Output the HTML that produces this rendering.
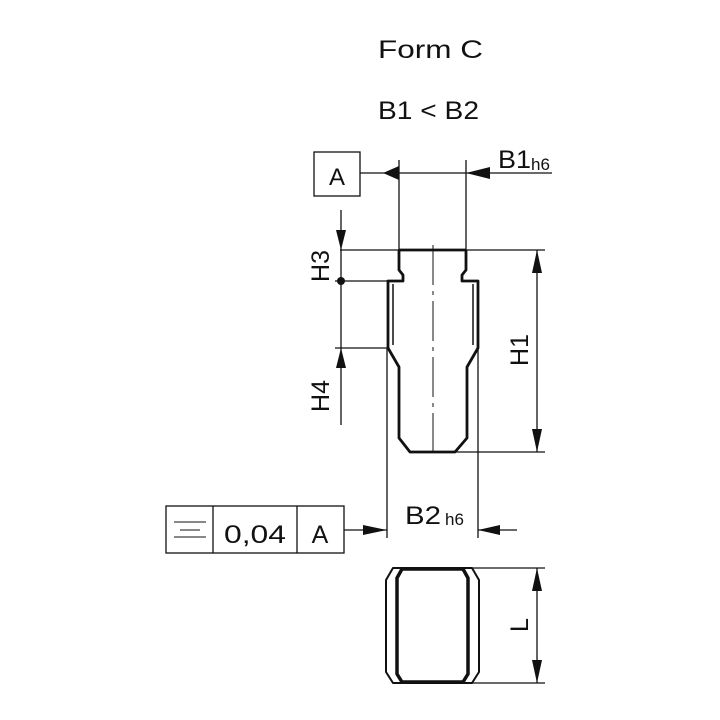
<!DOCTYPE html>
<html><head><style>body{margin:0;background:#fff}svg{display:block}text{font-family:"Liberation Sans",sans-serif;fill:#111}</style></head>
<body>
<svg width="720" height="720" viewBox="0 0 720 720" xmlns="http://www.w3.org/2000/svg">
<rect width="720" height="720" fill="#fff"/>
<text x="378" y="58" font-size="25" textLength="105" lengthAdjust="spacingAndGlyphs">Form C</text>
<text x="378" y="119" font-size="25" textLength="101" lengthAdjust="spacingAndGlyphs">B1 &lt; B2</text>
<g stroke="#111" stroke-width="1.3" fill="none">
<rect x="314" y="152" width="46" height="44"/>
<line x1="360" y1="173" x2="552" y2="173"/>
<line x1="399" y1="160" x2="399" y2="250"/>
<line x1="466" y1="160" x2="466" y2="250"/>
<line x1="340" y1="250" x2="545" y2="250"/>
<line x1="341" y1="210" x2="341" y2="425"/>
<line x1="335" y1="281" x2="388" y2="281"/>
<line x1="335" y1="348" x2="388" y2="348"/>
<line x1="537" y1="250" x2="537" y2="452"/>
<line x1="455" y1="452" x2="545" y2="452"/>
<line x1="387" y1="348" x2="387" y2="538"/>
<line x1="478" y1="348" x2="478" y2="538"/>
<line x1="344" y1="530" x2="387" y2="530"/>
<line x1="478" y1="530" x2="517" y2="530"/>
<line x1="433" y1="245" x2="433" y2="458" stroke-dasharray="40,6,4,6" stroke-width="1"/>
<rect x="166" y="506" width="178" height="47"/>
<line x1="213" y1="506" x2="213" y2="553"/>
<line x1="297" y1="506" x2="297" y2="553"/>
<line x1="174" y1="522" x2="206" y2="522" stroke-width="1"/>
<line x1="180" y1="530" x2="200" y2="530" stroke-width="1"/>
<line x1="174" y1="537" x2="206" y2="537" stroke-width="1"/>
<line x1="470" y1="568" x2="545" y2="568"/>
<line x1="470" y1="683" x2="545" y2="683"/>
<line x1="537" y1="568" x2="537" y2="683"/>
</g>
<g fill="#111">
<polygon points="383,173 399,166 399,180"/>
<polygon points="466,173 490,167 490,179"/>
<polygon points="341,250 336,230 346,230"/>
<circle cx="341" cy="281" r="4"/>
<polygon points="341,348 336,368 346,368"/>
<polygon points="537,250 532,273 542,273"/>
<polygon points="537,452 532,429 542,429"/>
<polygon points="387,530 363,525 363,535"/>
<polygon points="478,530 500,525 500,535"/>
<polygon points="537,568 532,591 542,591"/>
<polygon points="537,683 532,660 542,660"/>
</g>
<g stroke="#111" stroke-width="2.8" fill="none" stroke-linejoin="round">
<path d="M399,250 L466,250 M399,250 L399,270 L403,275 L403,281 L388,281 L388,348 L399,367 L399,438 L410,452 L455,452 L467,438 L467,367 L478,348 L478,281 L462,281 L462,275 L466,270 L466,250"/>
<path d="M393,284 L393,345 M473,284 L473,345" stroke-width="1.5"/>
<path d="M393,568 L472,568 L479,580 L479,672 L472,683 L393,683 L386,672 L386,580 Z" stroke-width="2"/>
<path d="M402,569 L463,569 L468,578 L468,674 L463,682 L402,682 L397,674 L397,578 Z" stroke-width="3.5"/>
</g>
<text x="320" y="543" font-size="25" text-anchor="middle">A</text>
<text x="224" y="543" font-size="25" textLength="62" lengthAdjust="spacingAndGlyphs">0,04</text>
<text x="337" y="185" font-size="24" text-anchor="middle">A</text>
<text x="498" y="168" font-size="25" textLength="33" lengthAdjust="spacingAndGlyphs">B1</text><text x="531" y="170" font-size="17">h6</text>
<text x="405" y="524" font-size="25" textLength="36" lengthAdjust="spacingAndGlyphs">B2</text><text x="445" y="525" font-size="17">h6</text>
<text transform="translate(329,266) rotate(-90)" font-size="25" text-anchor="middle">H3</text>
<text transform="translate(329,396) rotate(-90)" font-size="25" text-anchor="middle">H4</text>
<text transform="translate(528,350) rotate(-90)" font-size="25" text-anchor="middle">H1</text>
<text transform="translate(528,625) rotate(-90)" font-size="25" text-anchor="middle">L</text>
</svg>
</body></html>
